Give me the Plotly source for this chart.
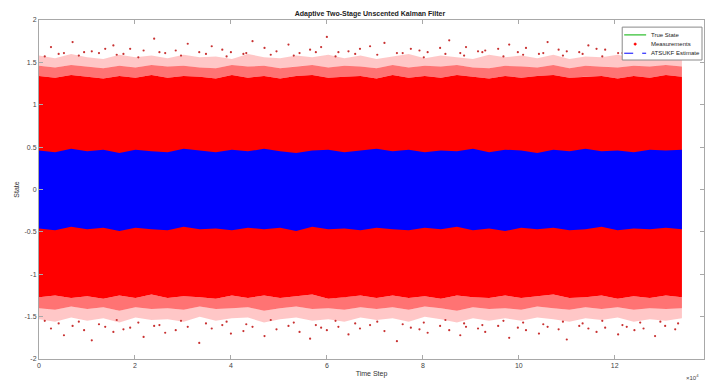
import plotly.graph_objects as go

# ---- data ----
time_steps = [0, 3350, 6700, 10050, 13400, 16750, 20100, 23450, 26800, 30150, 33500,
              36850, 40200, 43550, 46900, 50250, 53600, 56950, 60300, 63650, 67000,
              70350, 73700, 77050, 80400, 83750, 87100, 90450, 93800, 97150, 100500,
              103850, 107200, 110550, 113900, 117250, 120600, 123950, 127300, 130650, 134000]

meas_upper = [1.34, 1.32, 1.35, 1.33, 1.31, 1.34, 1.32, 1.35, 1.32, 1.34, 1.33, 1.31, 1.35, 1.32,
              1.34, 1.31, 1.34, 1.35, 1.32, 1.33, 1.34, 1.31, 1.35, 1.32, 1.34, 1.32, 1.35, 1.33,
              1.31, 1.34, 1.32, 1.34, 1.35, 1.32, 1.33, 1.34, 1.31, 1.34, 1.32, 1.35, 1.33]
meas_lower = [-1.27, -1.25, -1.28, -1.26, -1.29, -1.25, -1.28, -1.24, -1.28, -1.26, -1.27, -1.29,
              -1.25, -1.28, -1.25, -1.28, -1.26, -1.24, -1.29, -1.27, -1.25, -1.28, -1.25, -1.28,
              -1.26, -1.29, -1.25, -1.27, -1.28, -1.25, -1.28, -1.26, -1.24, -1.28, -1.27, -1.25,
              -1.29, -1.26, -1.28, -1.25, -1.27]
inner_fringe_upper = [1.46, 1.44, 1.47, 1.45, 1.43, 1.46, 1.44, 1.47, 1.45, 1.46, 1.44, 1.43, 1.47,
                      1.45, 1.46, 1.43, 1.45, 1.47, 1.44, 1.46, 1.45, 1.43, 1.47, 1.44, 1.46, 1.45,
                      1.47, 1.44, 1.43, 1.46, 1.45, 1.44, 1.47, 1.43, 1.46, 1.45, 1.44, 1.46, 1.45,
                      1.47, 1.45]
outer_fringe_upper = [1.58, 1.55, 1.60, 1.56, 1.54, 1.59, 1.56, 1.58, 1.55, 1.59, 1.56, 1.57, 1.54,
                      1.60, 1.56, 1.55, 1.58, 1.56, 1.59, 1.55, 1.58, 1.54, 1.57, 1.60, 1.55, 1.58,
                      1.56, 1.54, 1.59, 1.56, 1.58, 1.55, 1.59, 1.54, 1.57, 1.56, 1.59, 1.55, 1.57,
                      1.58, 1.56]
inner_fringe_lower = [-1.40, -1.42, -1.38, -1.41, -1.39, -1.43, -1.39, -1.41, -1.40, -1.42, -1.38,
                      -1.41, -1.40, -1.39, -1.43, -1.40, -1.38, -1.41, -1.40, -1.42, -1.39, -1.41,
                      -1.39, -1.42, -1.38, -1.40, -1.43, -1.39, -1.41, -1.40, -1.42, -1.38, -1.40,
                      -1.42, -1.39, -1.41, -1.39, -1.42, -1.40, -1.41, -1.40]
outer_fringe_lower = [-1.53, -1.56, -1.51, -1.55, -1.52, -1.57, -1.51, -1.54, -1.53, -1.56, -1.50,
                      -1.55, -1.52, -1.51, -1.57, -1.53, -1.51, -1.55, -1.53, -1.56, -1.51, -1.54,
                      -1.52, -1.56, -1.50, -1.53, -1.57, -1.52, -1.55, -1.52, -1.55, -1.51, -1.53,
                      -1.56, -1.52, -1.54, -1.51, -1.56, -1.53, -1.55, -1.52]
est_upper = [0.46, 0.44, 0.48, 0.45, 0.47, 0.43, 0.47, 0.45, 0.44, 0.48, 0.46, 0.44, 0.47, 0.45,
             0.48, 0.45, 0.43, 0.46, 0.47, 0.44, 0.46, 0.48, 0.45, 0.47, 0.44, 0.46, 0.45, 0.48,
             0.44, 0.47, 0.46, 0.43, 0.47, 0.45, 0.48, 0.45, 0.46, 0.44, 0.47, 0.46, 0.47]
est_lower = [-0.46, -0.48, -0.44, -0.47, -0.45, -0.49, -0.45, -0.47, -0.48, -0.44, -0.47, -0.46,
             -0.48, -0.45, -0.47, -0.45, -0.49, -0.44, -0.47, -0.46, -0.48, -0.45, -0.47, -0.48,
             -0.45, -0.47, -0.44, -0.48, -0.46, -0.49, -0.45, -0.47, -0.45, -0.48, -0.47, -0.44,
             -0.48, -0.46, -0.47, -0.45, -0.47]
est_center = [0.00, 0.01, -0.01, 0.00, 0.02, -0.02, 0.01, 0.00, -0.01, 0.02, 0.00, -0.01, 0.01, 0.00,
              0.01, -0.02, 0.00, 0.01, -0.01, 0.00, 0.02, 0.01, -0.01, 0.00, 0.01, -0.02, 0.00, 0.01,
              -0.01, 0.00, 0.02, -0.01, 0.00, 0.01, -0.01, 0.00, 0.01, -0.02, 0.00, 0.01, 0.00]
true_state = [0.00, 0.00, 0.00, 0.00, 0.00, 0.00, 0.00, 0.00, 0.00, 0.00, 0.00, 0.00, 0.00, 0.00,
              0.00, 0.00, 0.00, 0.00, 0.00, 0.00, 0.00, 0.00, 0.00, 0.00, 0.00, 0.00, 0.00, 0.00,
              0.00, 0.00, 0.00, 0.00, 0.00, 0.00, 0.00, 0.00, 0.00, 0.00, 0.00, 0.00, 0.00]

outlier_x = [2500, 5200, 7000, 9400, 11000, 13800, 15500, 17600, 19000, 21800, 24000, 26300,
             28500, 31000, 33400, 36000, 38200, 40000, 42600, 44500, 47000, 49500, 52000, 54300,
             56500, 58800, 60000, 62400, 64500, 66900, 69000, 72000, 74600, 77500, 79300, 81000,
             83600, 85500, 87800, 89000, 91500, 93000, 95700, 98000, 99800, 101500, 104200, 106000,
             108300, 110000, 112600, 114500, 116200, 118000, 120700, 122500, 124100, 126000,
             128400, 130500, 132600]
outlier_up = [1.68, 1.61, 1.74, 1.62, 1.63, 1.66, 1.70, 1.60, 1.66, 1.64, 1.78, 1.61, 1.64, 1.72,
              1.62, 1.69, 1.65, 1.62, 1.60, 1.75, 1.67, 1.63, 1.71, 1.61, 1.65, 1.68, 1.80, 1.62,
              1.63, 1.66, 1.69, 1.73, 1.61, 1.66, 1.64, 1.62, 1.67, 1.76, 1.61, 1.68, 1.63, 1.64,
              1.66, 1.71, 1.62, 1.67, 1.60, 1.74, 1.65, 1.63, 1.62, 1.70, 1.66, 1.65, 1.61, 1.72,
              1.64, 1.68, 1.62, 1.66, 1.63]
outlier_down = [-1.64, -1.72, -1.61, -1.66, -1.78, -1.62, -1.68, -1.65, -1.63, -1.74, -1.61, -1.69,
                -1.66, -1.62, -1.81, -1.64, -1.60, -1.70, -1.67, -1.62, -1.73, -1.65, -1.61, -1.68,
                -1.76, -1.63, -1.66, -1.62, -1.71, -1.64, -1.60, -1.67, -1.79, -1.63, -1.65, -1.69,
                -1.61, -1.66, -1.72, -1.62, -1.64, -1.68, -1.61, -1.75, -1.63, -1.66, -1.70, -1.62,
                -1.65, -1.77, -1.61, -1.64, -1.68, -1.63, -1.71, -1.62, -1.66, -1.64, -1.73, -1.61,
                -1.65]
near_x = [1200, 4100, 8300, 12500, 16200, 20700, 25100, 29600, 34800, 39100, 43200, 48300,
          53100, 57700, 61800, 65900, 70500, 75800, 80200, 84700, 88600, 92400, 96800, 100900,
          105100, 109200, 113300, 117400, 121600, 125300, 129500, 133200]
near_up = [1.57, 1.60, 1.58, 1.61, 1.59, 1.56, 1.62, 1.58, 1.60, 1.57, 1.61, 1.59, 1.58, 1.62,
           1.57, 1.60, 1.59, 1.61, 1.56, 1.60, 1.58, 1.62, 1.57, 1.59, 1.61, 1.58, 1.60, 1.57,
           1.61, 1.59, 1.58, 1.60]
near_down = [-1.55, -1.58, -1.56, -1.59, -1.54, -1.57, -1.60, -1.55, -1.58, -1.56, -1.59, -1.54,
             -1.57, -1.60, -1.55, -1.58, -1.56, -1.59, -1.57, -1.54, -1.58, -1.60, -1.55, -1.57,
             -1.59, -1.56, -1.58, -1.55, -1.60, -1.57, -1.56, -1.58]

x_tick_vals = [0, 20000, 40000, 60000, 80000, 100000, 120000]
x_tick_text = ["0", "2", "4", "6", "8", "10", "12"]
y_tick_vals = [-2, -1.5, -1, -0.5, 0, 0.5, 1, 1.5, 2]
y_tick_text = ["-2", "-1.5", "-1", "-0.5", "0", "0.5", "1", "1.5", "2"]
legend_labels = ["True State", "Measurements", "ATSUKF Estimate"]

RED = "#ff0000"
BLUE = "#0000ff"
GREEN = "#00b000"
FONT = "Liberation Sans, Arial, sans-serif"

rev_t = time_steps[::-1]


def band(lo, hi, color):
    return go.Scatter(x=time_steps + rev_t, y=hi + lo[::-1], fill="toself", fillcolor=color,
                      mode="lines", line=dict(width=0), showlegend=False, hoverinfo="skip")


fig = go.Figure()

fig.add_trace(go.Scatter(x=time_steps, y=true_state, mode="lines",
                         line=dict(color=GREEN, width=1), showlegend=False))
# measurement cloud: sparse outer zone, denser inner zone, solid core
fig.add_trace(band(inner_fringe_upper, outer_fringe_upper, "rgba(255,0,0,0.22)"))
fig.add_trace(band(outer_fringe_lower, inner_fringe_lower, "rgba(255,0,0,0.22)"))
fig.add_trace(band(meas_upper, inner_fringe_upper, "rgba(255,0,0,0.55)"))
fig.add_trace(band(inner_fringe_lower, meas_lower, "rgba(255,0,0,0.55)"))
fig.add_trace(band(meas_lower, meas_upper, RED))
# isolated measurement points
fig.add_trace(go.Scatter(x=outlier_x + outlier_x + near_x + near_x,
                         y=outlier_up + outlier_down + near_up + near_down, mode="markers",
                         marker=dict(color="#c83030", size=2.2), showlegend=False))
# estimate band
fig.add_trace(band(est_lower, est_upper, BLUE))
fig.add_trace(go.Scatter(x=time_steps, y=est_center, mode="lines",
                         line=dict(color=BLUE, width=1, dash="dash"), showlegend=False))

# compact legend (MATLAB style)
lx0, lx1, ly0, ly1 = 0.877, 0.997, 0.882, 0.979
shapes = [dict(type="rect", xref="paper", yref="paper", x0=lx0, x1=lx1, y0=ly0, y1=ly1,
               line=dict(color="#8a8a8a", width=1), fillcolor="white", layer="above")]
row_y = [0.956, 0.929, 0.902]
sx0, sx1 = 0.880, 0.913
shapes.append(dict(type="line", xref="paper", yref="paper", x0=sx0, x1=sx1,
                   y0=row_y[0], y1=row_y[0], line=dict(color=GREEN, width=1), layer="above"))
shapes.append(dict(type="line", xref="paper", yref="paper", x0=sx0, x1=sx1,
                   y0=row_y[2], y1=row_y[2], line=dict(color=BLUE, width=1, dash="dash"),
                   layer="above"))
mx = (sx0 + sx1) / 2
shapes.append(dict(type="circle", xref="paper", yref="paper", x0=mx - 0.0018, x1=mx + 0.0018,
                   y0=row_y[1] - 0.0035, y1=row_y[1] + 0.0035, fillcolor=RED,
                   line=dict(color=RED, width=0.5), layer="above"))
annotations = []
for lab, yy in zip(legend_labels, row_y):
    annotations.append(dict(text=lab, xref="paper", yref="paper", x=0.917, y=yy,
                            xanchor="left", yanchor="middle", showarrow=False,
                            font=dict(size=6, color="#222", family=FONT)))
annotations.append(dict(text="\u00d710<sup>4</sup>", xref="paper", yref="paper", x=0.995, y=-0.035,
                        xanchor="right", yanchor="top", showarrow=False,
                        font=dict(size=6, color="#444", family=FONT)))

fig.update_layout(
    width=706, height=383,
    margin=dict(l=39, r=2, t=20, b=24),
    paper_bgcolor="white", plot_bgcolor="white",
    title=dict(text="<b>Adaptive Two-Stage Unscented Kalman Filter</b>", x=0.524, xanchor="center",
               y=0.965, yanchor="middle", font=dict(size=7, color="#222", family=FONT)),
    shapes=shapes, annotations=annotations,
    font=dict(family=FONT, color="#444"),
)
axis_common = dict(showline=True, linecolor="#a8a8a8", linewidth=1, mirror="allticks",
                   ticks="inside", ticklen=4, tickcolor="#a8a8a8", showgrid=False,
                   zeroline=False, tickfont=dict(size=7, color="#444", family=FONT))
fig.update_xaxes(range=[0, 138600], tickvals=x_tick_vals, ticktext=x_tick_text,
                 title=dict(text="Time Step", font=dict(size=7, color="#333", family=FONT),
                            standoff=2),
                 **axis_common)
fig.update_yaxes(range=[-2, 2], tickvals=y_tick_vals, ticktext=y_tick_text,
                 title=dict(text="State", font=dict(size=7, color="#333", family=FONT),
                            standoff=4),
                 **axis_common)

fig.write_html("out.html")
